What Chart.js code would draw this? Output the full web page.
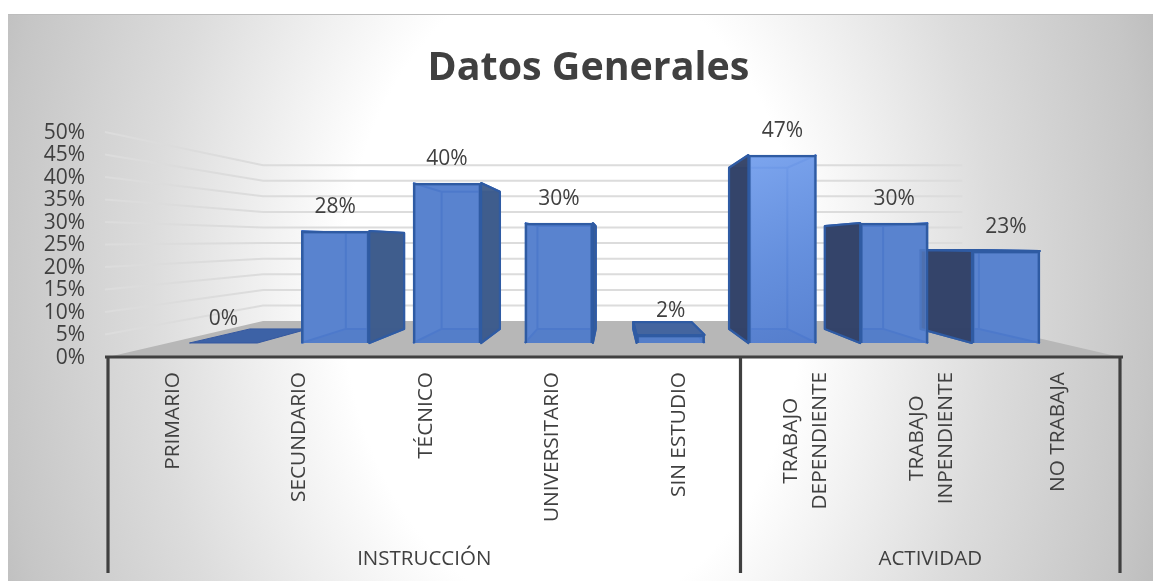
<!DOCTYPE html>
<html>
<head>
<meta charset="utf-8">
<script src="https://cdn.jsdelivr.net/npm/chart.js@4"></script>
<style>
html,body{margin:0;padding:0;background:#fff;width:1153px;height:581px;overflow:hidden}
#bg{position:absolute;left:8px;top:14px;width:1145px;height:567px;box-sizing:border-box;border-top:1px solid #bdbdbd;
background:radial-gradient(ellipse 640px 900px at 565px 276px,#ffffff 0%,#ffffff 36%,#dcdcdc 66%,#c6c6c6 90%,#b9b9b9 100%)}
canvas{position:absolute;left:0;top:0}
</style>
</head>
<body>
<div id="bg"></div>
<canvas id="c" width="1153" height="581"></canvas>
<script>
const chartTitle = "Datos Generales";
const categories = [["PRIMARIO"],["SECUNDARIO"],["TÉCNICO"],["UNIVERSITARIO"],["SIN ESTUDIO"],["TRABAJO","DEPENDIENTE"],["TRABAJO","INPENDIENTE"],["NO TRABAJA"]];
const percentValues = [0,28,40,30,2,47,30,23];
const groupLabels = ["INSTRUCCIÓN","ACTIVIDAD"];
const groupSpans = [5,3];
const tickStep = 5;
const tickMax = 50;

const FONT = '"Open Sans"';
const TEXT = '#404040';
const VP_X = 613, BAR_VY = 244.5, BAR_S = 0.857, WALL_VY = 240, WALL_S = 0.693;
const proj = (x,y,vy,s)=>[VP_X+(x-VP_X)*s, vy+(y-vy)*s];

function poly(ctx,pts,fill,stroke,lw){
  ctx.beginPath();
  pts.forEach((p,i)=> i?ctx.lineTo(p[0],p[1]):ctx.moveTo(p[0],p[1]));
  ctx.closePath();
  if(fill){ctx.fillStyle=fill;ctx.fill();}
  if(stroke){ctx.strokeStyle=stroke;ctx.lineWidth=lw;ctx.lineJoin='round';ctx.stroke();}
}

const scene = {
  id:'scene',
  beforeDatasetsDraw(chart){
    const ctx=chart.ctx, a=chart.chartArea, yS=chart.scales.y;
    ctx.save();
    // floor
    const y0=yS.getPixelForValue(0);
    const bl=proj(a.left,y0,WALL_VY,WALL_S), br=proj(a.right,y0,WALL_VY,WALL_S);
    poly(ctx,[[a.left,y0],[a.right,y0],br,bl],'#b7b7b7');
    // wall gridlines
    ctx.strokeStyle='#dcdcdc';ctx.lineWidth=2;
    for(let v=tickStep;v<=tickMax;v+=tickStep){
      const y=yS.getPixelForValue(v);
      const l=proj(a.left,y,WALL_VY,WALL_S), r=proj(a.right,y,WALL_VY,WALL_S);
      ctx.beginPath();ctx.moveTo(a.left-3,y);ctx.lineTo(l[0],l[1]);ctx.lineTo(r[0]-2,r[1]);ctx.stroke();
    }
    // bar depth faces
    const meta=chart.getDatasetMeta(0);
    meta.data.forEach((el)=>{
      const x0=el.x-el.width/2,x1=el.x+el.width/2,t=el.y,b=el.base;
      const P=(x,y)=>proj(x,y,BAR_VY,BAR_S);
      const EDGE='#2f5ba3', INNER='#2f62c0';
      if(Math.abs(b-t)<1){
        poly(ctx,[[x0,b],[x1,b],P(x1,b),P(x0,b)],'#3d62a6','#3558a0',1);
        return;
      }
      // inside of the box, seen through the front
      poly(ctx,[[x0,t],[x1,t],[x1,b],[x0,b]],'#5480cd');
      poly(ctx,[P(x0,t),P(x1,t),P(x1,b),P(x0,b)],'#5480cd');
      poly(ctx,[[x0,b],[x1,b],P(x1,b),P(x0,b)],'#4670bc');
      // inner edges
      ctx.strokeStyle=INNER;ctx.lineWidth=2;
      ctx.beginPath();
      [x0,x1].forEach(x=>{const q=P(x,t),r=P(x,b);ctx.moveTo(q[0],q[1]);ctx.lineTo(r[0],r[1]);ctx.lineTo(x,b);ctx.moveTo(q[0],q[1]);ctx.lineTo(x,t);});
      const q=P(x0,t),r=P(x1,t),q2=P(x0,b),r2=P(x1,b);
      ctx.moveTo(q[0],q[1]);ctx.lineTo(r[0],r[1]);ctx.moveTo(q2[0],q2[1]);ctx.lineTo(r2[0],r2[1]);
      ctx.stroke();
      // top face, when seen from above
      if(t>BAR_VY){
        poly(ctx,[[x0,t],[x1,t],P(x1,t),P(x0,t)],'#44659f',EDGE,2.2);
      }
      // side face
      if(x1<VP_X){
        poly(ctx,[[x1,t],P(x1,t),P(x1,b),[x1,b]],'rgba(62,92,138,0.96)',EDGE,2.2);
      } else if(x0>VP_X){
        poly(ctx,[[x0,t],P(x0,t),P(x0,b),[x0,b]],'rgba(52,66,102,0.97)',EDGE,2.2);
      }
    });
    ctx.restore();
  },
  afterDatasetsDraw(chart){
    const ctx=chart.ctx, a=chart.chartArea, xS=chart.scales.x;
    ctx.save();
    // data labels
    ctx.font='21px '+FONT;ctx.fillStyle=TEXT;ctx.textAlign='center';ctx.textBaseline='middle';
    chart.getDatasetMeta(0).data.forEach((el,i)=>{
      ctx.fillText(percentValues[i]+'%',el.x,el.y-24);
    });
    // axis lines
    ctx.strokeStyle='#404040';ctx.lineWidth=3.2;
    const bottom=573, y0=a.bottom;
    ctx.beginPath();ctx.moveTo(a.left-3,y0);ctx.lineTo(a.right+3,y0);ctx.stroke();
    // group separators and group labels
    const band=(a.right-a.left)/categories.length;
    let start=0;
    const drawSep=x=>{ctx.beginPath();ctx.moveTo(x,y0);ctx.lineTo(x,bottom);ctx.stroke();};
    drawSep(a.left);
    ctx.font='20.5px '+FONT;ctx.fillStyle=TEXT;
    groupSpans.forEach((n,g)=>{
      const x0=a.left+start*band,x1=a.left+(start+n)*band;
      drawSep(x1);
      ctx.textAlign='center';ctx.textBaseline='middle';
      ctx.fillText(groupLabels[g],(x0+x1)/2,559);
      start+=n;
    });
    // rotated category labels, block anchored just under the axis, lines centred in the block
    ctx.font='20.8px '+FONT;
    categories.forEach((lines,i)=>{
      const cx=xS.getPixelForTick(i)+1.5;
      const blockW=Math.max(...lines.map(s=>ctx.measureText(s).width));
      const lh=29;
      lines.forEach((s,k)=>{
        ctx.save();
        ctx.translate(cx+(k-(lines.length-1)/2)*lh,372+blockW/2);
        ctx.rotate(-Math.PI/2);
        ctx.textAlign='center';ctx.textBaseline='middle';
        ctx.fillText(s,0,0);
        ctx.restore();
      });
    });
    ctx.restore();
  }
};

new Chart(document.getElementById('c'),{
  type:'bar',
  data:{
    labels:categories,
    datasets:[{
      label:'Datos Generales',
      xAxisID:'xBar',yAxisID:'yBar',
      data:percentValues.map((v,i)=>({x:i,y:v})),
      barThickness:68,
      borderWidth:2.5,
      borderColor:'#2f5ba3',
      backgroundColor(c){
        if(c.dataIndex===5 && c.chart.chartArea){
          const g=c.chart.ctx.createLinearGradient(745,150,820,345);
          g.addColorStop(0,'rgba(136,176,248,0.8)');
          g.addColorStop(0.55,'rgba(108,150,228,0.72)');
          g.addColorStop(1,'rgba(90,130,210,0.7)');
          return g;
        }
        return 'rgba(92,133,208,0.68)';
      }
    }]
  },
  options:{
    responsive:false,
    animation:false,
    layout:{padding:{left:24,right:0,top:0,bottom:224}},
    plugins:{
      legend:{display:false},
      tooltip:{enabled:false},
      title:{display:true,text:chartTitle,color:TEXT,font:{family:FONT,size:39.4,weight:'bold',lineHeight:1.2},padding:{top:45.5,bottom:39.2}}
    },
    scales:{
      x:{type:'category',position:'bottom',grid:{display:false},border:{display:false},ticks:{display:false},afterFit(s){s.height=0;}},
      y:{type:'linear',position:'left',min:0,max:tickMax,grid:{display:false,drawTicks:false},border:{display:false},
         ticks:{stepSize:tickStep,autoSkip:false,padding:23,labelOffset:1,color:TEXT,font:{family:FONT,size:21},callback:v=>v+'%'},
         afterFit(s){s.width=84;}},
      xBar:{type:'linear',display:false,min:-1.033,max:8.02,offset:false},
      yBar:{type:'linear',position:'right',min:-3.5,max:52.75,grid:{display:false},border:{display:false},ticks:{display:false},afterFit(s){s.width=33;}}
    }
  },
  plugins:[scene]
});
</script>
</body>
</html>
